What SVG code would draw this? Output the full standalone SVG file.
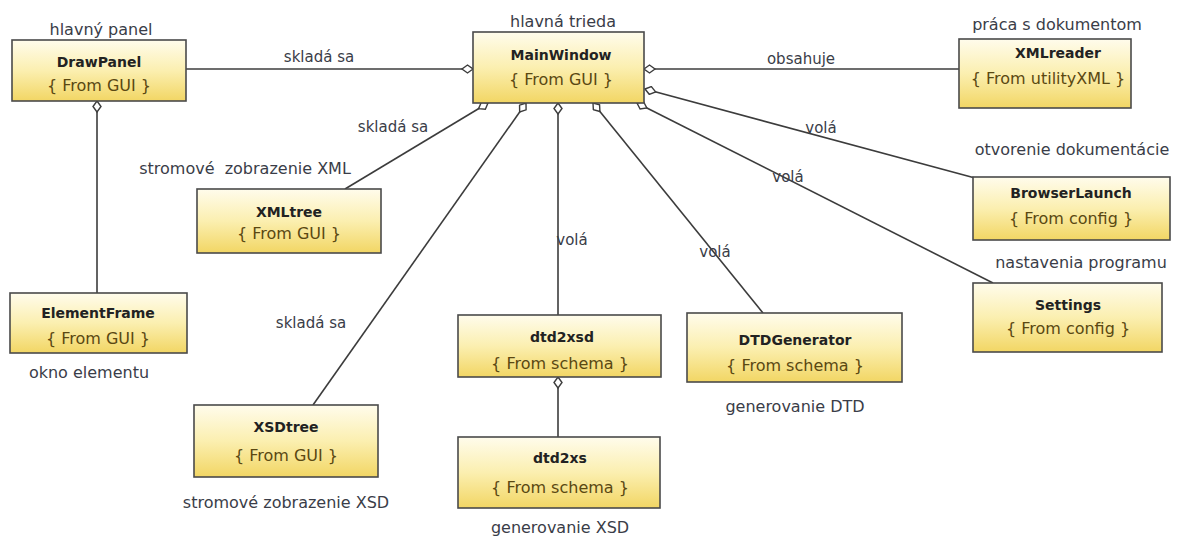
<svg xmlns="http://www.w3.org/2000/svg" width="1180" height="538" viewBox="0 0 1180 538">
<style>
.box{stroke:#4a4a4a;stroke-width:1.6;fill:url(#g)}
.nm{font-family:"DejaVu Sans",sans-serif;font-weight:bold;font-size:14px;fill:#222;text-anchor:middle}
.fr{font-family:"DejaVu Sans",sans-serif;font-size:16px;fill:#5a4812;text-anchor:middle}
.an{font-family:"DejaVu Sans",sans-serif;font-size:16px;fill:#3a3d48;text-anchor:middle}
.lb{font-family:"DejaVu Sans",sans-serif;font-size:15px;fill:#3a3d48;text-anchor:middle}
.ln{stroke:#3c3c3c;stroke-width:1.6;fill:none;marker-start:url(#dia)}
.pl{stroke:#3c3c3c;stroke-width:1.6;fill:none}
</style>
<defs>
<linearGradient id="g" x1="0" y1="0" x2="0" y2="1">
<stop offset="0" stop-color="#fffcec"/>
<stop offset="0.5" stop-color="#fbefb0"/>
<stop offset="1" stop-color="#f2d664"/>
</linearGradient>
<marker id="dia" markerUnits="userSpaceOnUse" markerWidth="14" markerHeight="10" viewBox="-1 -5 14 10" refX="0" refY="0" orient="auto">
<path d="M0,0 L5.5,-4 L11,0 L5.5,4 Z" fill="#fff" stroke="#3c3c3c" stroke-width="1.4"/>
</marker>
</defs>
<rect width="1180" height="538" fill="#fff"/>
<g id="connectors">
<line class="ln" x1="473" y1="69" x2="186" y2="69"/>
<line class="ln" x1="644" y1="69" x2="959" y2="69"/>
<line class="ln" x1="645" y1="89" x2="975" y2="178"/>
<line class="ln" x1="637" y1="103" x2="993" y2="283"/>
<line class="ln" x1="488" y1="103" x2="345" y2="189"/>
<line class="ln" x1="526" y1="103" x2="313" y2="405"/>
<line class="ln" x1="558" y1="103" x2="558" y2="315"/>
<line class="ln" x1="593" y1="103" x2="763" y2="313"/>
<line class="ln" x1="97" y1="101" x2="97" y2="293"/>
<line class="ln" x1="558" y1="377" x2="558" y2="437"/>
<text class="lb" x="319" y="62">skladá sa</text>
<text class="lb" x="801" y="64">obsahuje</text>
<text class="lb" x="821" y="133">volá</text>
<text class="lb" x="788" y="182">volá</text>
<text class="lb" x="393" y="132">skladá sa</text>
<text class="lb" x="311" y="328">skladá sa</text>
<text class="lb" x="572" y="245">volá</text>
<text class="lb" x="715" y="257">volá</text>
</g>
<g id="DrawPanel">
<rect class="box" x="12" y="40" width="174" height="61"/>
<text class="nm" x="99" y="67">DrawPanel</text>
<text class="fr" x="99" y="91">{ From GUI }</text>
<text class="an" x="101" y="35">hlavný panel</text>
</g>
<g id="MainWindow">
<rect class="box" x="473" y="32" width="171" height="71"/>
<text class="nm" x="561" y="60">MainWindow</text>
<text class="fr" x="561" y="85">{ From GUI }</text>
<text class="an" x="563" y="27">hlavná trieda</text>
</g>
<g id="XMLreader">
<rect class="box" x="959" y="39" width="172" height="69"/>
<text class="nm" x="1058" y="58">XMLreader</text>
<text class="fr" x="1048" y="84">{ From utilityXML }</text>
<text class="an" x="1057" y="30">práca s dokumentom</text>
</g>
<g id="XMLtree">
<rect class="box" x="197" y="189" width="184" height="64"/>
<text class="nm" x="289" y="217">XMLtree</text>
<text class="fr" x="289" y="239">{ From GUI }</text>
<text class="an" x="245" y="174" xml:space="preserve">stromové  zobrazenie XML</text>
</g>
<g id="ElementFrame">
<rect class="box" x="10" y="293" width="177" height="60"/>
<text class="nm" x="98" y="318">ElementFrame</text>
<text class="fr" x="98" y="344">{ From GUI }</text>
<text class="an" x="89" y="378">okno elementu</text>
</g>
<g id="XSDtree">
<rect class="box" x="194" y="405" width="184" height="72"/>
<text class="nm" x="286" y="432">XSDtree</text>
<text class="fr" x="286" y="461">{ From GUI }</text>
<text class="an" x="286" y="508">stromové zobrazenie XSD</text>
</g>
<g id="dtd2xsd">
<rect class="box" x="458" y="315" width="203" height="62"/>
<text class="nm" x="562" y="342">dtd2xsd</text>
<text class="fr" x="560" y="369">{ From schema }</text>
</g>
<g id="dtd2xs">
<rect class="box" x="458" y="437" width="202" height="71"/>
<text class="nm" x="560" y="463">dtd2xs</text>
<text class="fr" x="560" y="493">{ From schema }</text>
<text class="an" x="560" y="533">generovanie XSD</text>
</g>
<g id="DTDGenerator">
<rect class="box" x="687" y="313" width="215" height="69"/>
<text class="nm" x="795" y="345">DTDGenerator</text>
<text class="fr" x="795" y="371">{ From schema }</text>
<text class="an" x="795" y="412">generovanie DTD</text>
</g>
<g id="BrowserLaunch">
<rect class="box" x="973" y="177" width="197" height="63"/>
<text class="nm" x="1071" y="198">BrowserLaunch</text>
<text class="fr" x="1071" y="224">{ From config }</text>
<text class="an" x="1072" y="155">otvorenie dokumentácie</text>
</g>
<g id="Settings">
<rect class="box" x="973" y="283" width="189" height="69"/>
<text class="nm" x="1068" y="310">Settings</text>
<text class="fr" x="1068" y="334">{ From config }</text>
<text class="an" x="1081" y="268">nastavenia programu</text>
</g>
</svg>
